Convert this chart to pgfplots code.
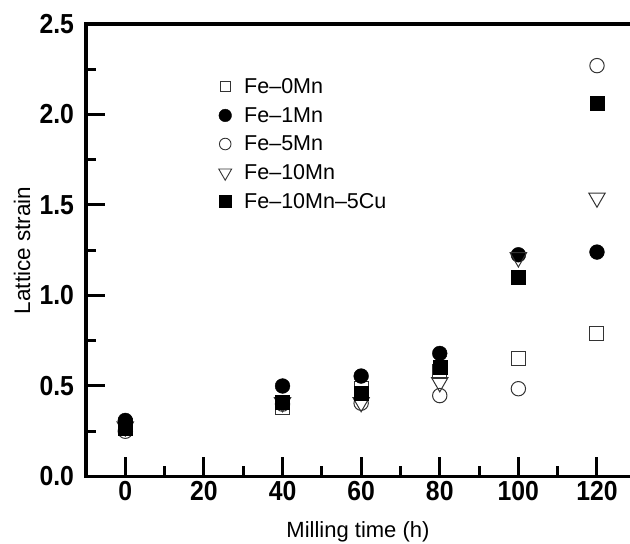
\documentclass[border=0pt]{standalone}
\usepackage{fontspec}
\setmainfont{Liberation Sans}
\newfontfamily\tickfont[FakeStretch=0.9]{Liberation Sans}
\usepackage{pgfplots}
\pgfplotsset{compat=1.18}
\begin{document}
\begin{tikzpicture}
\begin{axis}[
  scale only axis,
  width=544bp, height=452.5bp,
  xmin=-10, xmax=128.4,
  ymin=0, ymax=2.5,
  axis x line=box,
  axis y line=left,
  axis line style={-, line width=3.5bp, line cap=rect},
  xtick={0,20,...,120},
  minor xtick={10,30,...,110},
  ytick={0,0.5,...,2.5},
  yticklabels={0.0,0.5,1.0,1.5,2.0,2.5},
  minor ytick={0.25,0.75,...,2.25},
  xtick pos=left, ytick pos=left,
  tick align=inside,
  major tick length=19bp, minor tick length=10bp,
  every tick/.style={black, line width=3bp},
  /pgf/number format/assume math mode=true,
  tick label style={font=\tickfont\fontsize{27.5bp}{27.5bp}\selectfont\bfseries},
  yticklabel style={xshift=-8.5bp},
  xticklabel style={yshift=-1bp},
  xlabel={Milling time (h)},
  ylabel={Lattice strain},
  every axis x label/.style={at={(axis description cs:0.5,-0.1359)}, anchor=base, font=\fontsize{22bp}{22bp}\selectfont},
  every axis y label/.style={at={(axis description cs:-0.1029,0.5)}, rotate=90, anchor=base, font=\fontsize{22.5bp}{22.5bp}\selectfont},
  legend style={draw=none, fill=none, at={(0.2436,0.88)}, anchor=north west,
    font=\fontsize{21.5bp}{21.5bp}\selectfont, inner sep=0pt,
    nodes={inner sep=0pt}, column sep=12.5bp, row sep=12.3bp},
  legend cell align=left,
  legend image code/.code={\draw[#1] plot coordinates {(0bp,0bp)};},
]
\addlegendimage{only marks, mark=square, mark size=4.8bp, mark options={fill=white, draw=black!80, line width=0.9bp}}
\addlegendentry{Fe–0Mn}
\addlegendimage{only marks, mark=*, mark size=6.3bp, mark options={fill=black, draw=black}}
\addlegendentry{Fe–1Mn}
\addlegendimage{only marks, mark=o, mark size=5.8bp, mark options={fill=white, draw=black!80, line width=0.9bp}}
\addlegendentry{Fe–5Mn}
\addlegendimage{only marks, mark=triangle, mark size=7.5bp, mark options={rotate=180, fill=white, draw=black!80, line width=0.9bp}}
\addlegendentry{Fe–10Mn}
\addlegendimage{only marks, mark=square*, mark size=6bp, mark options={fill=black, draw=black}}
\addlegendentry{Fe–10Mn–5Cu}

% Fe-0Mn
\addplot[forget plot, only marks, mark=square, mark size=7bp, mark options={fill=white, draw=black!80, line width=1bp}]
  coordinates {(0,0.28) (40,0.38) (60,0.485) (80,0.58) (100,0.65) (120,0.79)};
% Fe-1Mn
\addplot[forget plot, only marks, mark=*, mark size=7.4bp, mark options={fill=black, draw=black}]
  coordinates {(0,0.31) (40,0.50) (60,0.555) (80,0.68) (100,1.225) (120,1.24)};
% Fe-5Mn
\addplot[forget plot, only marks, mark=o, mark size=7.2bp, mark options={fill=white, draw=black!80, line width=1bp}]
  coordinates {(0,0.25) (40,0.40) (60,0.405) (80,0.447) (100,0.485) (120,2.27)};
% Fe-10Mn
\addplot[forget plot, only marks, mark=triangle, mark size=9.5bp, mark options={rotate=180, fill=white, draw=black!80, line width=1bp}]
  coordinates {(0,0.275) (40,0.41) (60,0.41) (80,0.52) (100,1.21) (120,1.54)};
% Fe-10Mn-5Cu
\addplot[forget plot, only marks, mark=square*, mark size=7bp, mark options={fill=black, draw=black}]
  coordinates {(0,0.265) (40,0.41) (60,0.46) (80,0.604) (100,1.10) (120,2.06)};
\end{axis}
\pgfresetboundingbox
\path[use as bounding box] (-86bp,-67.5bp) rectangle (544bp,476.5bp);
\end{tikzpicture}
\end{document}
